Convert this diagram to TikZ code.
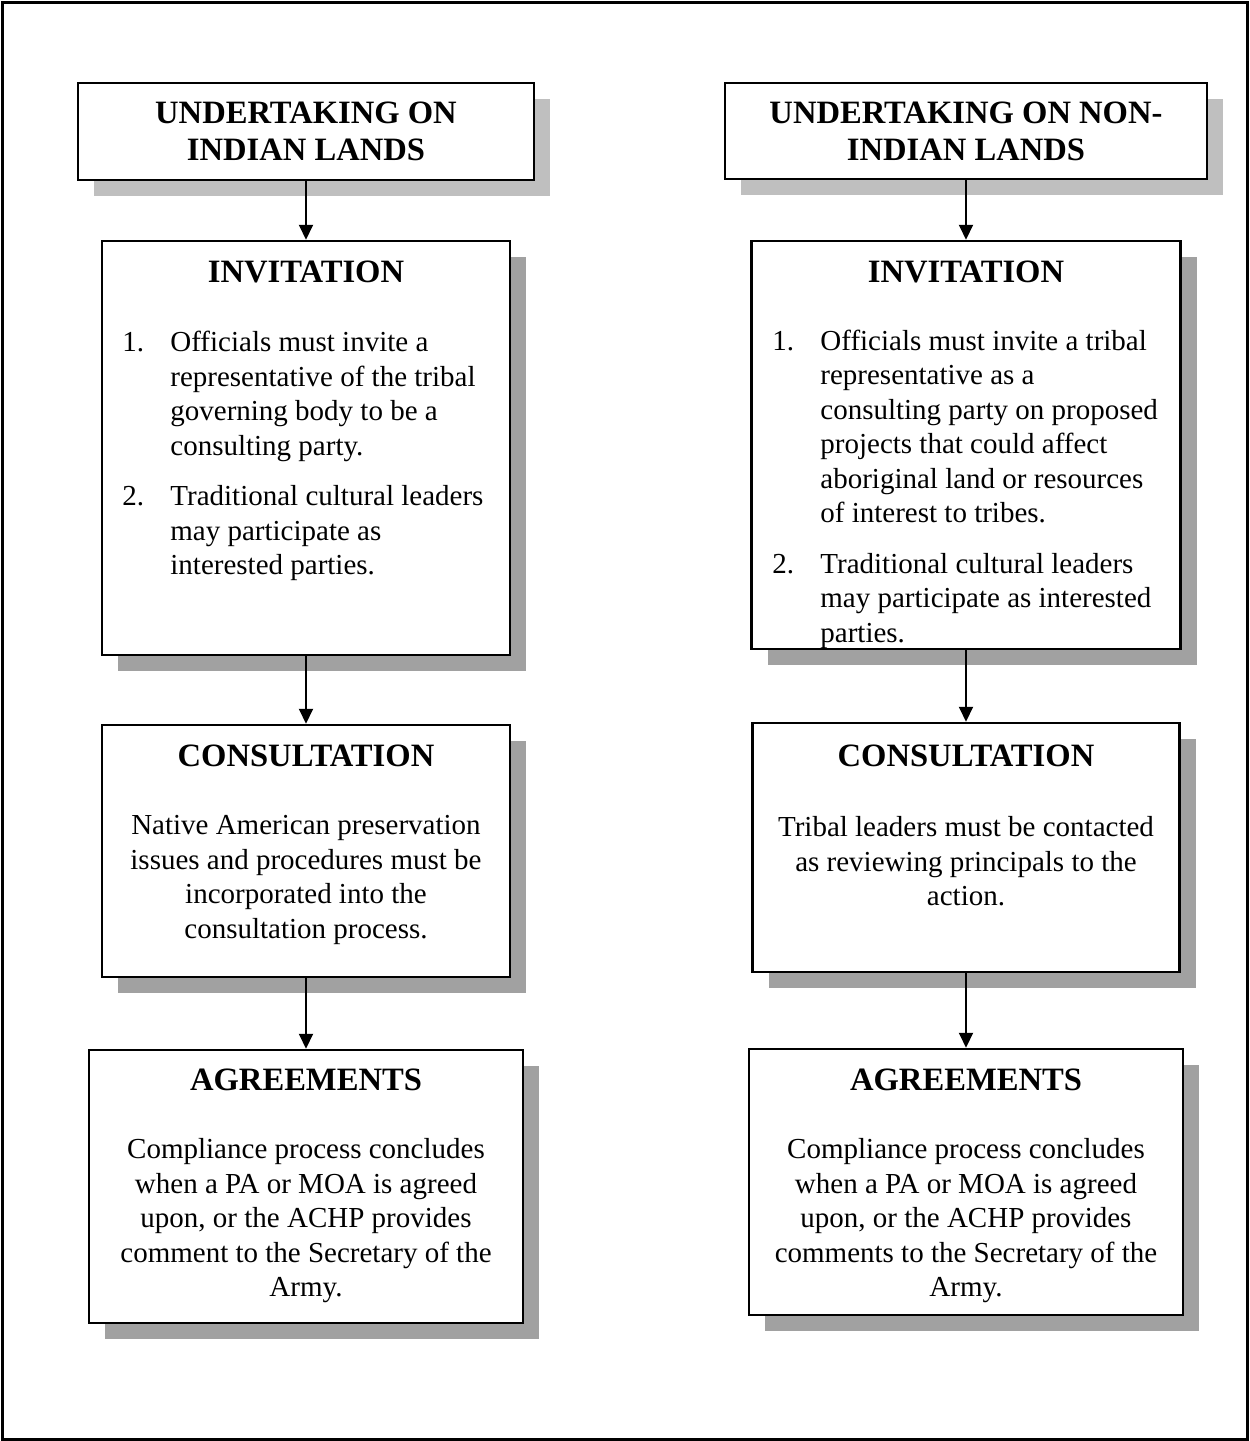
\documentclass[tikz,border=0pt]{standalone}
\usepackage{fontspec}
\setmainfont{Liberation Serif}
\usetikzlibrary{arrows.meta,shadows}
\definecolor{shadelight}{gray}{0.75}
\definecolor{shadedark}{gray}{0.63}
\newcommand{\itemno}[1]{\makebox[24pt][l]{#1}}
\newcommand{\itemgo}{\hspace*{24pt}}
\begin{document}
\begin{tikzpicture}[x=0.5pt,y=-0.5pt,>={Triangle[length=7.5pt,width=7pt]},
  stage/.style={draw,line width=1.25pt,fill=white,inner sep=0pt,
    drop shadow={shadow xshift=8pt,shadow yshift=-8pt,fill=#1,opacity=1}},
  stage/.default=shadedark,
  head/.style={font=\fontsize{16.3}{18.5}\selectfont\bfseries,align=center,inner sep=0pt},
  body/.style={font=\fontsize{14.5}{17.25}\selectfont,align=center,inner sep=0pt},
  list/.style={body,align=left,anchor=west},
  flow/.style={->,line width=1pt}]
\useasboundingbox (0,0) rectangle (1249,1441);
\draw[line width=1.5pt] (2,2) rectangle (1247,1439);
%\draw[help lines,step=50] (0,0) grid (1249,1441);

% left column
\node[stage=shadelight,minimum width=228pt,minimum height=48.5pt] (L0) at (306,131.5) {};
\node[stage,minimum width=204pt,minimum height=207pt] (L1) at (306,448) {};
\node[stage,minimum width=204pt,minimum height=126pt] (L2) at (306,851) {};
\node[stage,minimum width=217pt,minimum height=136.5pt] (L3) at (306,1186.5) {};

\node[head] (L0t) at (306,131.5) {UNDERTAKING ON\\INDIAN LANDS};
\node[head] (L1t) at (306,272) {INVITATION};
\node[list] (L1b) at (122,456) {\itemno{1.}Officials must invite a\\
  \itemgo representative of the tribal\\
  \itemgo governing body to be a\\
  \itemgo consulting party.\\[8pt]
  \itemno{2.}Traditional cultural leaders\\
  \itemgo may participate as\\
  \itemgo interested parties.};
\node[head] (L2t) at (306,756) {CONSULTATION};
\node[body] (L2b) at (306,880) {Native American preservation\\
  issues and procedures must be\\incorporated into the\\consultation process.};
\node[head] (L3t) at (306,1080) {AGREEMENTS};
\node[body] (L3b) at (306,1221) {Compliance process concludes\\
  when a PA or MOA is agreed\\upon, or the ACHP provides\\
  comment to the Secretary of the\\Army.};

% right column
\node[stage=shadelight,minimum width=241pt,minimum height=48pt] (R0) at (966,131) {};
\node[stage,minimum width=214.5pt,minimum height=204pt] (R1) at (966,445) {};
\node[stage,minimum width=213.5pt,minimum height=124.5pt] (R2) at (966,847.5) {};
\node[stage,minimum width=217pt,minimum height=133pt] (R3) at (966,1182) {};

\node[head] (R0t) at (966,131) {UNDERTAKING ON NON-\\INDIAN LANDS};
\node[head] (R1t) at (966,272) {INVITATION};
\node[list] (R1b) at (772,489) {\itemno{1.}Officials must invite a tribal\\
  \itemgo representative as a\\
  \itemgo consulting party on proposed\\
  \itemgo projects that could affect\\
  \itemgo aboriginal land or resources\\
  \itemgo of interest to tribes.\\[8pt]
  \itemno{2.}Traditional cultural leaders\\
  \itemgo may participate as interested\\
  \itemgo parties.};
\node[head] (R2t) at (966,756) {CONSULTATION};
\node[body] (R2b) at (966,861.5) {Tribal leaders must be contacted\\
  as reviewing principals to the\\action.};
\node[head] (R3t) at (966,1080) {AGREEMENTS};
\node[body] (R3b) at (966,1221) {Compliance process concludes\\
  when a PA or MOA is agreed\\upon, or the ACHP provides\\
  comments to the Secretary of the\\Army.};

\draw[flow] (L0.south) -- (L1.north);
\draw[flow] (L1.south) -- (L2.north);
\draw[flow] (L2.south) -- (L3.north);
\draw[flow] (R0.south) -- (R0.south |- R1.north);
\draw[flow] (R1.south) -- (R1.south |- R2.north);
\draw[flow] (R2.south) -- (R2.south |- R3.north);
\end{tikzpicture}
\end{document}
